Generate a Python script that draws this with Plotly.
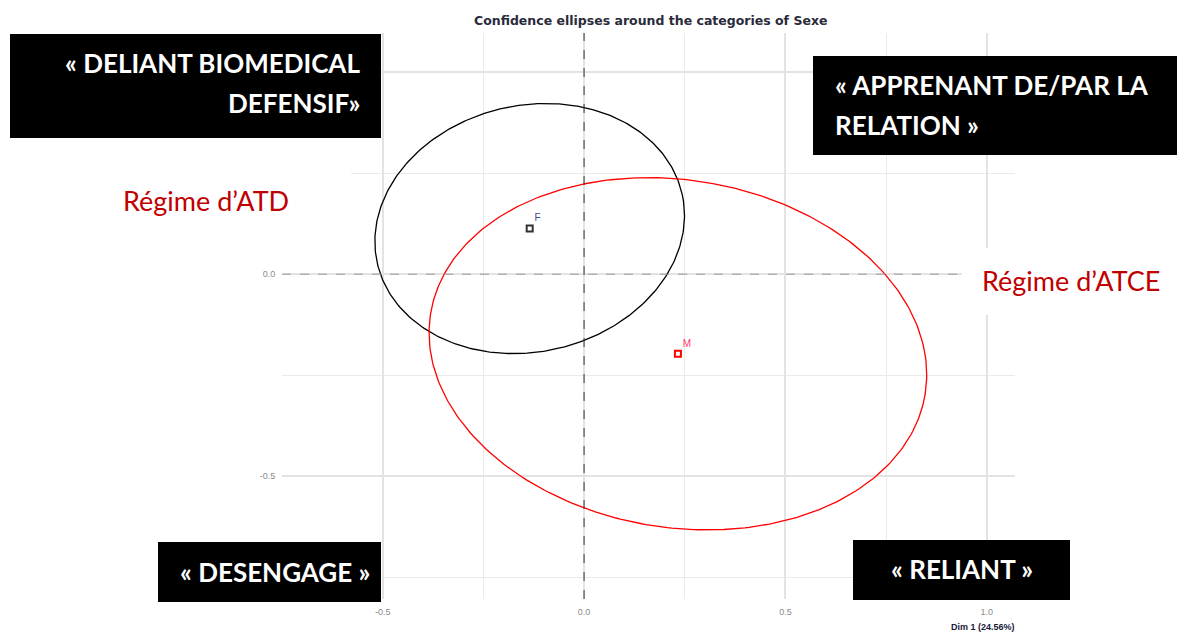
import numpy as np
import plotly.graph_objects as go

# ---------------- data ----------------
categories = ["F", "M"]
cat_x = [-0.135, 0.233]
cat_y = [0.113, -0.197]
cat_colors = ["#333333", "#ff0000"]
label_colors = ["#3a4a8a", "#ff3b6b"]
# confidence ellipse parameters (semi-major, semi-minor, rotation in degrees)
ell_a = [0.388, 0.622]
ell_b = [0.305, 0.430]
ell_angle = [12.7, -9.2]
ell_colors = ["#000000", "#ff0000"]

x_ticks = [-0.5, 0.0, 0.5, 1.0]
x_tick_text = ["-0.5", "0.0", "0.5", "1.0"]
y_ticks = [-0.5, 0.0, 0.5]
y_tick_text = ["-0.5", "0.0", ""]  # the 0.5 label is hidden under the top-left box
title_text = "Confidence ellipses around the categories of Sexe"
x_title = "Dim 1 (24.56%)"

box_lines = [["« DELIANT BIOMEDICAL", "DEFENSIF»"], ["« APPRENANT DE/PAR LA", "RELATION »"],
             ["« DESENGAGE »"], ["« RELIANT »"]]
regime_labels = ["Régime d’ATD", "Régime d’ATCE"]

# ---------------- layout geometry ----------------
OFF = 8  # page body margin
FW, FH = 1187 - OFF, 634 - OFF
L, T, R, B = 282 - OFF, 33 - OFF, 172, 35
PW, PH = FW - L - R, FH - T - B


def px(x):
    return (x - OFF - L) / PW


def py(y):
    return 1 - (y - OFF - T) / PH


fig = go.Figure()

t = np.linspace(0, 2 * np.pi, 361)
for cx, cy, a, b, ang, col in zip(cat_x, cat_y, ell_a, ell_b, ell_angle, ell_colors):
    th = np.deg2rad(ang)
    ex = cx + a * np.cos(t) * np.cos(th) - b * np.sin(t) * np.sin(th)
    ey = cy + a * np.cos(t) * np.sin(th) + b * np.sin(t) * np.cos(th)
    fig.add_trace(go.Scatter(x=ex, y=ey, mode="lines", line=dict(color=col, width=1.3),
                             hoverinfo="skip", showlegend=False))

for cat, x, y, c, lc in zip(categories, cat_x, cat_y, cat_colors, label_colors):
    fig.add_trace(go.Scatter(x=[x], y=[y], mode="markers+text", text=[cat],
                             textposition="top right",
                             textfont=dict(size=10, color=lc, family="Liberation Sans"),
                             marker=dict(symbol="square-open", size=6, color=c,
                                         line=dict(width=2, color=c)),
                             showlegend=False))

axis_common = dict(
    showgrid=True, gridcolor="#e3e3e3", gridwidth=1.5, zeroline=False,
    showline=False, ticks="outside", ticklen=4, tickcolor="rgba(0,0,0,0)",
    tickfont=dict(size=9, color="#8a8a8a", family="Liberation Sans"),
    minor=dict(dtick=0.25, showgrid=True, gridcolor="#eaeaea", gridwidth=1),
)
fig.update_xaxes(range=[-0.75, 1.07], tickmode="array", tickvals=x_ticks, ticktext=x_tick_text,
                 **axis_common)
fig.update_yaxes(range=[-0.804, 0.597], tickmode="array", tickvals=y_ticks, ticktext=y_tick_text,
                 **axis_common)
fig.update_xaxes(minor=dict(tick0=0, dtick=0.25))
fig.update_yaxes(minor=dict(tick0=0, dtick=0.25))

shapes = [
    dict(type="line", xref="x", yref="paper", x0=0, x1=0, y0=0, y1=1,
         line=dict(color="#333333", width=1, dash="dash")),
    dict(type="line", xref="paper", yref="y", x0=0, x1=1, y0=0, y1=0,
         line=dict(color="#9a9a9a", width=1, dash="dash")),
]
# white label backgrounds
for (x0, y0, x1, y1) in [(105, 166, 351, 238), (962, 248, 1180, 315)]:
    shapes.append(dict(type="rect", xref="paper", yref="paper", layer="above",
                       x0=px(x0), x1=px(x1), y0=py(y0), y1=py(y1),
                       fillcolor="white", line=dict(width=0)))
# black boxes
box_px = [(10, 34, 381, 138), (813, 56, 1177, 155), (158, 542, 381, 602), (853, 540, 1070, 600)]
for (x0, y0, x1, y1) in box_px:
    shapes.append(dict(type="rect", xref="paper", yref="paper", layer="above",
                       x0=px(x0), x1=px(x1), y0=py(y0), y1=py(y1),
                       fillcolor="black", line=dict(width=0)))

box_font = dict(family="Lato", size=26, color="white")
red_font = dict(family="Lato", size=27, color="#c00000")
annotations = [
    dict(text=f"<b>{box_lines[0][0]}</b>", x=px(362), y=py(63), xanchor="right", font=box_font),
    dict(text=f"<b>{box_lines[0][1]}</b>", x=px(362), y=py(103), xanchor="right", font=box_font),
    dict(text=f"<b>{box_lines[1][0]}</b>", x=px(833), y=py(85), xanchor="left", font=box_font),
    dict(text=f"<b>{box_lines[1][1]}</b>", x=px(833), y=py(125), xanchor="left", font=box_font),
    dict(text=f"<b>{box_lines[2][0]}</b>", x=px(275), y=py(572), xanchor="center", font=box_font),
    dict(text=f"<b>{box_lines[3][0]}</b>", x=px(962), y=py(569), xanchor="center", font=box_font),
    dict(text=regime_labels[0], x=px(206), y=py(200), xanchor="center", font=red_font),
    dict(text=regime_labels[1], x=px(1071), y=py(280), xanchor="center", font=red_font),
    dict(text=f"<b>{title_text}</b>", x=px(650), y=py(20), xanchor="center",
         font=dict(family="DejaVu Sans", size=12.5, color="#2a2a3a")),
    dict(text=f"<b>{x_title}</b>", x=px(1017), y=py(627), xanchor="right",
         font=dict(family="Liberation Sans", size=9, color="#1a1a3a")),
]
for an in annotations:
    an.update(xref="paper", yref="paper", showarrow=False, yanchor="middle")

fig.update_layout(
    width=FW, height=FH, margin=dict(l=L, r=R, t=T, b=B),
    paper_bgcolor="white", plot_bgcolor="white",
    shapes=shapes, annotations=annotations, showlegend=False,
)

fig.write_html("out.html")
